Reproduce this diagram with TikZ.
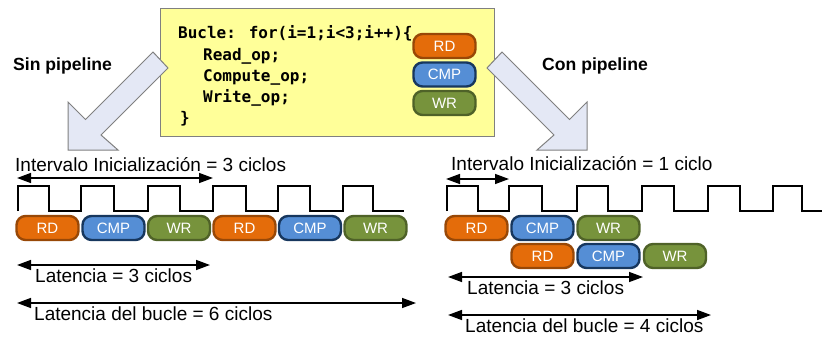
\documentclass[tikz,border=0pt]{standalone}
\usepackage{fontspec}
\setmainfont{Liberation Sans}
\newfontfamily\codefont{DejaVu Sans Mono}
\usetikzlibrary{arrows.meta}

\definecolor{boxyellow}{RGB}{255,255,153}
\definecolor{boxedge}{RGB}{128,128,128}
\definecolor{bigarrow}{RGB}{228,232,245}
\definecolor{rdfill}{RGB}{228,108,10}
\definecolor{rdedge}{RGB}{152,72,7}
\definecolor{cmpfill}{RGB}{85,142,213}
\definecolor{cmpedge}{RGB}{23,55,94}
\definecolor{wrfill}{RGB}{119,147,60}
\definecolor{wredge}{RGB}{79,98,40}

\tikzset{
  pill/.style={rounded corners=9pt, line width=2.4pt, minimum width=62pt,
    minimum height=24pt, inner sep=0pt, text=white,
    font=\fontsize{15}{15}\selectfont},
  rdop/.style={pill, fill=rdfill, draw=rdedge},
  cmpop/.style={pill, fill=cmpfill, draw=cmpedge},
  wrop/.style={pill, fill=wrfill, draw=wredge},
  codeline/.style={anchor=base west, inner sep=0pt,
    font=\codefont\bfseries\fontsize{16}{16}\selectfont},
  label/.style={anchor=base west, inner sep=0pt,
    font=\fontsize{19}{19}\selectfont},
  title/.style={anchor=base west, inner sep=0pt,
    font=\bfseries\fontsize{17.6}{17.6}\selectfont},
  span/.style={line width=1.5pt, {Triangle[length=14pt,width=10pt]}-{Triangle[length=14pt,width=10pt]}},
  clock/.style={line width=1.2pt, line join=miter},
  blockarrow/.style={fill=bigarrow, draw=boxedge, line width=1pt, line join=miter},
}

\begin{document}
\begin{tikzpicture}[x=1pt, y=-1pt]
\useasboundingbox (0,0) rectangle (822,340);

% code box
\draw[fill=boxyellow, draw=boxedge, line width=1pt] (160,8) rectangle (494,136);
\node[codeline] (c1) at (178,38) {Bucle: for(i=1;i<3;i++)\{};
\node[codeline] (c2) at (203,60) {Read\_op;};
\node[codeline] (c3) at (203,81) {Compute\_op;};
\node[codeline] (c4) at (203,102) {Write\_op;};
\node[codeline] (c5) at (180,123) {\}};

\node[rdop]  (k1) at (444.5,46)  {RD};
\node[cmpop] (k2) at (444.5,74.5) {CMP};
\node[wrop]  (k3) at (444.5,103) {WR};

% block arrows towards the two schedules
\draw[blockarrow] (153,52) -- (85.5,119.5) -- (68,102) -- (68,150) -- (118,150)
  -- (101,135) -- (168,68) -- cycle;
\draw[blockarrow] (502,52) -- (569.5,119.5) -- (587,102) -- (587,150) -- (537,150)
  -- (554,135) -- (487,68) -- cycle;

\node[title] (sin) at (13,70) {Sin pipeline};
\node[title] (con) at (542,70) {Con pipeline};

% ---- without pipeline ----
\node[label] (iil) at (15,171) {Intervalo Inicialización = 3 ciclos};
\coordinate (iiA) at (17,178);
\coordinate (iiB) at (213,178);
\draw[span] (iiA) -- (iiB);

\draw[clock] (18,211)
  \foreach \r/\f/\n in {18/49/81, 81/114/148, 148/180/213, 213/246/278, 278/310/343, 343/373/404}
  { -- (\r,186) -- (\f,186) -- (\f,211) -- (\n,211) };

\node[rdop]  (a1) at (47.5,228)  {RD};
\node[cmpop] (a2) at (113.5,228) {CMP};
\node[wrop]  (a3) at (179,228)   {WR};
\node[rdop]  (a4) at (244.5,228) {RD};
\node[cmpop] (a5) at (310,228)   {CMP};
\node[wrop]  (a6) at (375.5,228) {WR};

\coordinate (laA) at (17,265);
\coordinate (laB) at (210,265);
\draw[span] (laA) -- (laB);
\node[label] (lal) at (35,282.5) {Latencia = 3 ciclos};

\coordinate (lbA) at (17,303);
\coordinate (lbB) at (416,303);
\draw[span] (lbA) -- (lbB);
\node[label] (lbl) at (34,320.5) {Latencia del bucle = 6 ciclos};

% ---- with pipeline ----
\node[label] (iir) at (451,170.5) {Intervalo Inicialización = 1 ciclo};
\coordinate (irA) at (446,179);
\coordinate (irB) at (509,179);
\draw[span] (irA) -- (irB);

\draw[clock] (447,211)
  \foreach \r/\f/\n in {447/478/509, 509/542/577, 577/608/642, 642/674/708, 708/740/773, 773/802/822}
  { -- (\r,186) -- (\f,186) -- (\f,211) -- (\n,211) };

\node[rdop]  (b1) at (476.5,228) {RD};
\node[cmpop] (b2) at (542.5,228) {CMP};
\node[wrop]  (b3) at (608.5,228) {WR};
\node[rdop]  (b4) at (542.5,256) {RD};
\node[cmpop] (b5) at (608.5,256) {CMP};
\node[wrop]  (b6) at (675,256)   {WR};

\coordinate (lrA) at (448,277);
\coordinate (lrB) at (643,277);
\draw[span] (lrA) -- (lrB);
\node[label] (lrl) at (467,294) {Latencia = 3 ciclos};

\coordinate (brA) at (448,315);
\coordinate (brB) at (711,315);
\draw[span] (brA) -- (brB);
\node[label] (brl) at (465,332.5) {Latencia del bucle = 4 ciclos};
\end{tikzpicture}
\end{document}
